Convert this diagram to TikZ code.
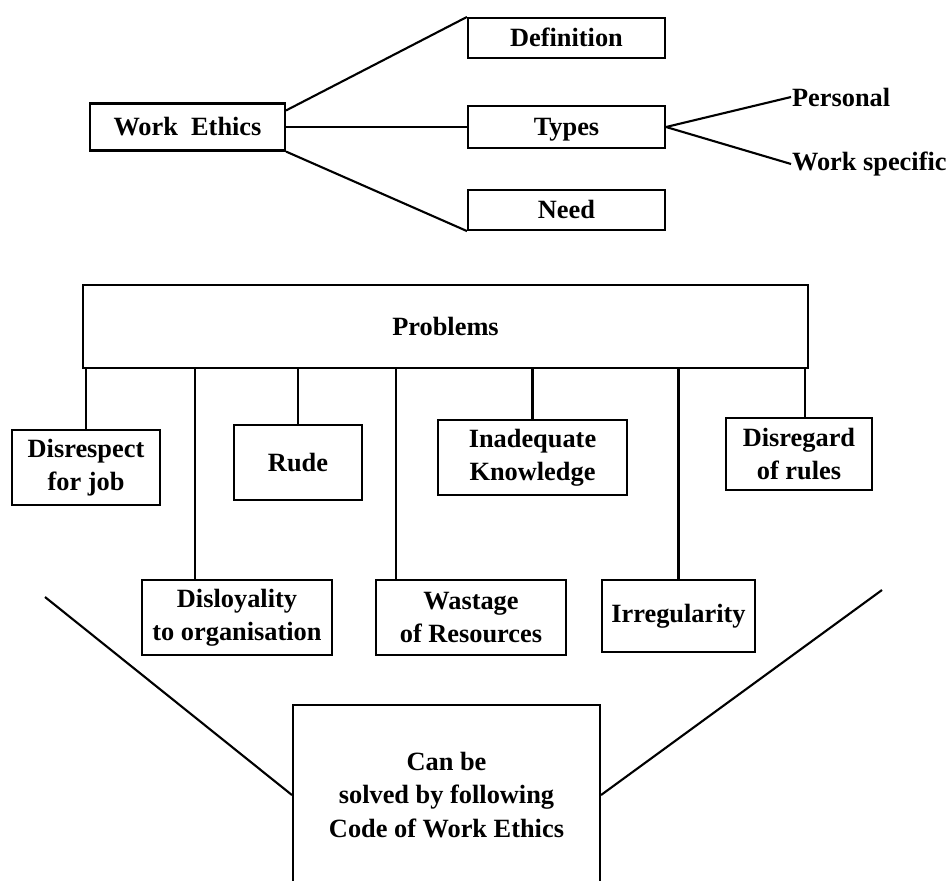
\documentclass[tikz,border=0pt]{standalone}
\usepackage{fontspec}
\setmainfont{Liberation Serif}
\usetikzlibrary{positioning, calc}

\begin{document}
\begin{tikzpicture}[node distance=2cm, auto, line width=1.2pt, text=black,
        font=\fontsize{15}{19}\selectfont\bfseries,
        box/.style={draw, rectangle, minimum height=0.8cm, minimum width=3.94cm, inner ysep=0pt, text height=13.5pt, text depth=3.5pt},
        probbox/.style={draw, rectangle, align=center, minimum height=1.5cm}]
        \useasboundingbox (0,0) rectangle (19,-17.6);

        % Work Ethics y sus ramas
        \node[box, minimum width=3.9cm, minimum height=0.94cm] (we) at (3.75,-2.54) {Work\ \ Ethics};
        \node[box, minimum height=0.84cm, right of=we, node distance=7.58cm] (types) {Types};
        \node[box, above of=types, node distance=1.78cm] (def) {Definition};
        \node[box, below of=types, node distance=1.66cm] (need) {Need};
        \node[right=2.5cm of types.east, yshift=0.6cm, inner sep=0pt] (pers) {Personal};
        \node[right=2.5cm of types.east, yshift=-0.74cm, inner sep=0pt] (wspec) {Work specific};

        \draw ($(we.north east)+(0,-0.16)$) -- (def.north west);
        \draw (we.east) -- (types.west);
        \draw (we.south east) -- (need.south west);
        \draw (types.east) -- (pers.west);
        \draw (types.east) -- (wspec.west);

        % Problemas
        \node[draw, rectangle, minimum width=14.5cm, minimum height=1.66cm] (prob) at (8.91,-6.53) {Problems};

        \node[probbox, minimum width=2.96cm] (disresp) at (1.72,-9.35) {Disrespect\\for job};
        \node[probbox, minimum width=2.56cm] (rude) at (5.96,-9.25) {Rude};
        \node[probbox, minimum width=3.78cm] (inad) at (10.65,-9.15) {Inadequate\\Knowledge};
        \node[probbox, minimum width=2.92cm, minimum height=1.44cm] (disreg) at (15.98,-9.08) {Disregard\\of rules};

        \node[probbox, minimum width=3.8cm] (disloy) at (4.74,-12.35) {Disloyality\\to organisation};
        \node[probbox, minimum width=3.8cm] (waste) at (9.42,-12.35) {Wastage\\of Resources};
        \node[probbox, minimum width=3.06cm, minimum height=1.44cm] (irreg) at (13.57,-12.32) {Irregularity};

        % Conexiones
        \coordinate (dl) at ($(disloy.north west)+(1.08,0)$);
        \coordinate (wl) at ($(waste.north west)+(0.42,0)$);
        \coordinate (rl) at ($(disreg.north)+(0.12,0)$);
        \draw (disresp.north |- prob.south) -- (disresp.north);
        \draw (dl |- prob.south) -- (dl);
        \draw (rude.north |- prob.south) -- (rude.north);
        \draw (wl |- prob.south) -- (wl);
        \draw (inad.north |- prob.south) -- (inad.north);
        \draw (irreg.north |- prob.south) -- (irreg.north);
        \draw (rl |- prob.south) -- (rl);

        % Solucion
        \node[draw, rectangle, align=center, minimum width=6.14cm, minimum height=3.6cm] (solve) at (8.93,-15.9) {Can be\\solved by following\\Code of Work Ethics};
        \coordinate (fl) at (0.9,-11.94);
        \coordinate (fr) at (17.64,-11.8);
        \draw (fl) -- (solve.west);
        \draw (fr) -- (solve.east);

    \end{tikzpicture}
\end{document}
